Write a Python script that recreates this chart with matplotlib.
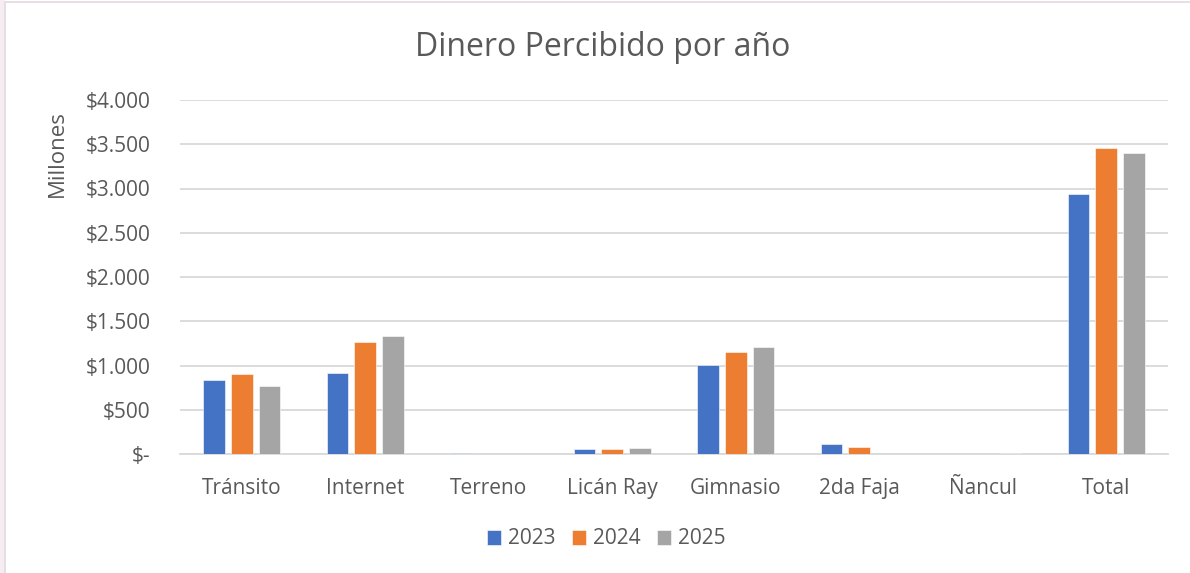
import matplotlib
matplotlib.use("Agg")
import matplotlib.pyplot as plt
from matplotlib.patches import Rectangle
import numpy as np

categories = ["Tránsito", "Internet", "Terreno", "Licán Ray", "Gimnasio", "2da Faja", "Ñancul", "Total"]
series_names = ["2023", "2024", "2025"]
v2023 = [834, 910, 12, 54, 1008, 111, 0, 2936]
v2024 = [902, 1260, 0, 59, 1147, 77, 0, 3460]
v2025 = [774, 1336, 0, 70, 1207, 0, 10, 3403]
yticks = [0, 500, 1000, 1500, 2000, 2500, 3000, 3500, 4000]
ytick_labels = ["$-", "$500", "$1.000", "$1.500", "$2.000", "$2.500", "$3.000", "$3.500", "$4.000"]
colors = ["#4472C4", "#ED7D31", "#A5A5A5"]

plt.rcParams['font.family'] = ['Open Sans', 'DejaVu Sans']
text_color = "#595959"

W, H = 1190, 573
fig = plt.figure(figsize=(W / 100, H / 100), dpi=100)
fig.patch.set_facecolor("white")

# outer background / frame
fig.patches.append(Rectangle((0, 0), 5 / W, 1, transform=fig.transFigure,
                             facecolor="#f6ecf4", edgecolor="none", zorder=0))
fig.patches.append(Rectangle((5 / W, -0.01), 1.0, 1 - 2 / H + 0.01, transform=fig.transFigure,
                             facecolor="none", edgecolor="#e3d9e0", linewidth=1.2, zorder=1))

ax = fig.add_axes([180 / W, 1 - 454 / H, 988 / W, 354 / H])
x = np.arange(len(categories))
bw = 0.178
off = 0.2247
for i, (vals, c, name) in enumerate(zip([v2023, v2024, v2025], colors, series_names)):
    ax.bar(x + (i - 1) * off, vals, width=bw, color=c, label=name, zorder=3,
           edgecolor="white", linewidth=0.4)

ax.set_xlim(-0.5, len(categories) - 0.5)
ax.set_ylim(0, 4000)
ax.set_yticks(yticks)
ax.set_yticklabels(ytick_labels)
ax.set_xticks(x)
ax.set_xticklabels(categories)
ax.grid(axis="y", color="#d9d9d9", linewidth=1.3, zorder=0)
for s in ["top", "right", "left"]:
    ax.spines[s].set_visible(False)
ax.spines["bottom"].set_color("#d9d9d9")
ax.spines["bottom"].set_linewidth(1.3)
ax.tick_params(axis="both", length=0, colors=text_color, labelsize=15)
ax.tick_params(axis="y", pad=21)
ax.tick_params(axis="x", pad=17)

fig.text(603 / W, 1 - 47 / H, "Dinero Percibido por año", ha="center", va="center",
         fontsize=23, color=text_color)
fig.text(57 / W, 1 - 153.5 / H, "Millones", rotation=90, ha="center", va="center",
         fontsize=16, color=text_color)

leg = ax.legend(loc="center", bbox_to_anchor=(606 / W, 1 - 539 / H), bbox_transform=fig.transFigure,
                ncol=3, frameon=False, fontsize=15, handlelength=0.7, handleheight=0.7,
                handletextpad=0.3, columnspacing=0.8)
for t in leg.get_texts():
    t.set_color(text_color)

fig.savefig("out.png", dpi=100)
